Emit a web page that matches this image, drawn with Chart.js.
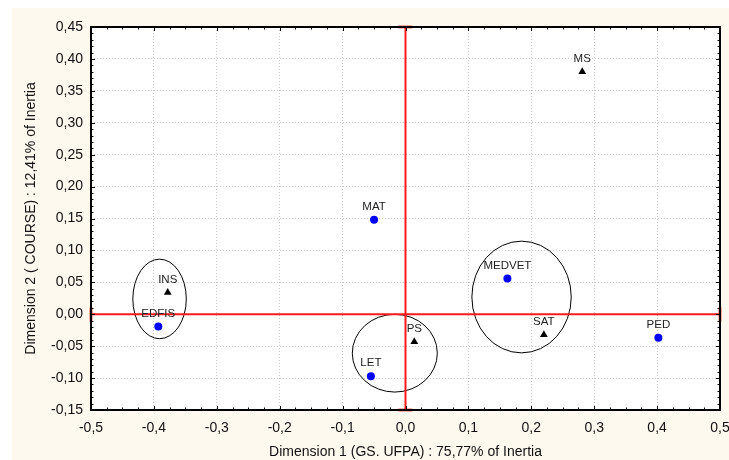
<!DOCTYPE html>
<html>
<head>
<meta charset="utf-8">
<script src="https://cdn.jsdelivr.net/npm/chart.js@4"></script>
<style>
  body { margin: 0; background: #fff; }
  canvas { display: block; }
</style>
</head>
<body>
<canvas id="caChart" width="729" height="460"></canvas>
<script>
// rows (circles) and columns (triangles) of the correspondence analysis
const circleLabels = ["MAT", "MEDVET", "PED", "LET", "EDFIS"];
const circleX = [-0.050, 0.162, 0.402, -0.055, -0.393];
const circleY = [0.148, 0.056, -0.037, -0.097, -0.019];

const triangleLabels = ["MS", "INS", "PS", "SAT"];
const triangleX = [0.281, -0.378, 0.014, 0.220];
const triangleY = [0.380, 0.034, -0.043, -0.032];

// groups circled on the map: centre x, centre y, radius x, radius y (data units)
const groupCx = [-0.391, -0.017, 0.1845];
const groupCy = [0.024, -0.061, 0.027];
const groupRx = [0.0425, 0.0676, 0.079];
const groupRy = [0.0623, 0.0609, 0.0875];

const xTitle = "Dimension 1 (GS. UFPA) : 75,77% of Inertia";
const yTitle = "Dimension 2 ( COURSE) : 12,41% of Inertia";

const FONT = "Arial, 'Liberation Sans', sans-serif";

const toPts = (xs, ys) => xs.map((x, i) => ({ x: x, y: ys[i] }));

const caPlugin = {
  id: "caPlugin",
  beforeDraw(chart) {
    const { ctx, chartArea: a } = chart;
    ctx.save();
    ctx.fillStyle = "#ffffff";
    ctx.fillRect(0, 0, chart.width, chart.height);
    ctx.fillStyle = "#fdf9ee";
    ctx.fillRect(12, 8, chart.width - 12, chart.height - 8);
    ctx.fillStyle = "#ffffff";
    ctx.fillRect(a.left, a.top, a.right - a.left, a.bottom - a.top);
    ctx.restore();
  },
  beforeDatasetsDraw(chart) {
    const { ctx, chartArea: a, scales: { x, y } } = chart;
    ctx.save();
    // ellipses
    ctx.strokeStyle = "#000";
    ctx.lineWidth = 1;
    groupCx.forEach((cx, i) => {
      const px = x.getPixelForValue(cx);
      const py = y.getPixelForValue(groupCy[i]);
      const rx = Math.abs(x.getPixelForValue(cx + groupRx[i]) - px);
      const ry = Math.abs(y.getPixelForValue(groupCy[i] + groupRy[i]) - py);
      ctx.beginPath();
      ctx.ellipse(px, py, rx, ry, 0, 0, Math.PI * 2);
      ctx.stroke();
    });
    // red origin lines
    const x0 = x.getPixelForValue(0);
    const y0 = y.getPixelForValue(0);
    ctx.strokeStyle = "#ff1a1a";
    ctx.lineWidth = 2;
    ctx.beginPath();
    ctx.moveTo(x0, a.top);
    ctx.lineTo(x0, a.bottom);
    ctx.moveTo(a.left, y0);
    ctx.lineTo(a.right, y0);
    ctx.stroke();
    ctx.strokeStyle = "rgba(255,0,0,0.6)";
    ctx.lineWidth = 3;
    ctx.beginPath();
    ctx.moveTo(x0 - 7, a.top); ctx.lineTo(x0 + 7, a.top);
    ctx.moveTo(x0 - 7, a.bottom); ctx.lineTo(x0 + 7, a.bottom);
    ctx.moveTo(a.left, y0 - 7); ctx.lineTo(a.left, y0 + 7);
    ctx.moveTo(a.right, y0 - 7); ctx.lineTo(a.right, y0 + 7);
    ctx.stroke();
    ctx.restore();
  },
  afterDatasetsDraw(chart) {
    const { ctx } = chart;
    ctx.save();
    ctx.font = "11.5px " + FONT;
    ctx.fillStyle = "#222";
    ctx.textAlign = "center";
    ctx.textBaseline = "middle";
    [0, 1].forEach(d => {
      const meta = chart.getDatasetMeta(d);
      const labels = d === 0 ? circleLabels : triangleLabels;
      meta.data.forEach((pt, i) => {
        ctx.fillText(labels[i], pt.x, pt.y - 13);
      });
    });
    ctx.restore();
  },
  afterDraw(chart) {
    const { ctx, chartArea: a, scales: { x, y } } = chart;
    ctx.save();
    // minor and major ticks inside the frame
    ctx.strokeStyle = "#000";
    ctx.lineWidth = 1;
    ctx.beginPath();
    for (let i = 0; i <= 40; i++) {
      const px = Math.round(x.getPixelForValue(-0.5 + i * 0.025)) + 0.5;
      const len = i % 4 === 0 ? 4 : 2.5;
      ctx.moveTo(px, a.bottom); ctx.lineTo(px, a.bottom - len);
      ctx.moveTo(px, a.top); ctx.lineTo(px, a.top + len);
    }
    for (let i = 0; i <= 60; i++) {
      const py = Math.round(y.getPixelForValue(-0.15 + i * 0.01)) + 0.5;
      const len = i % 5 === 0 ? 4 : 2.5;
      ctx.moveTo(a.left, py); ctx.lineTo(a.left + len, py);
      ctx.moveTo(a.right, py); ctx.lineTo(a.right - len, py);
    }
    ctx.stroke();
    // frame
    ctx.lineWidth = 2;
    ctx.strokeRect(a.left, a.top, a.right - a.left, a.bottom - a.top);
    // axis titles
    ctx.fillStyle = "#111";
    ctx.font = "14px " + FONT;
    ctx.textAlign = "center";
    ctx.textBaseline = "middle";
    ctx.fillText(xTitle, (a.left + a.right) / 2, 452);
    ctx.translate(31, (a.top + a.bottom) / 2);
    ctx.rotate(-Math.PI / 2);
    ctx.fillText(yTitle, 0, 0);
    ctx.restore();
  }
};

new Chart(document.getElementById("caChart"), {
  type: "scatter",
  data: {
    datasets: [
      {
        label: "rows",
        data: toPts(circleX, circleY),
        pointStyle: "circle",
        pointRadius: 4,
        backgroundColor: "#0000ff",
        borderColor: "#0000ff",
        borderWidth: 0
      },
      {
        label: "columns",
        data: toPts(triangleX, triangleY),
        pointStyle: "triangle",
        pointRadius: 4.5,
        backgroundColor: "#000000",
        borderColor: "#000000",
        borderWidth: 0
      }
    ]
  },
  options: {
    responsive: false,
    animation: false,
    devicePixelRatio: 1,
    layout: { padding: { left: 0, top: 27, right: 0, bottom: 0 } },
    plugins: { legend: { display: false }, tooltip: { enabled: false } },
    scales: {
      x: {
        type: "linear",
        min: -0.5,
        max: 0.5,
        afterFit: s => { s.height = 50; s.paddingRight = 9; },
        ticks: {
          stepSize: 0.1,
          padding: 10,
          color: "#111",
          font: { size: 14, family: FONT },
          maxRotation: 0,
          callback: v => (Math.abs(v) < 1e-9 ? 0 : v).toFixed(1).replace(".", ",")
        },
        grid: { color: "#c8c8c8", lineWidth: 1, drawTicks: false },
        border: { display: false, dash: [1, 2] }
      },
      y: {
        type: "linear",
        min: -0.15,
        max: 0.45,
        afterFit: s => { s.width = 91; },
        ticks: {
          stepSize: 0.05,
          padding: 8,
          color: "#111",
          font: { size: 14, family: FONT },
          callback: v => (Math.abs(v) < 1e-9 ? 0 : v).toFixed(2).replace(".", ",")
        },
        grid: { color: "#c8c8c8", lineWidth: 1, drawTicks: false },
        border: { display: false, dash: [1, 2] }
      }
    }
  },
  plugins: [caPlugin]
});
</script>
</body>
</html>
